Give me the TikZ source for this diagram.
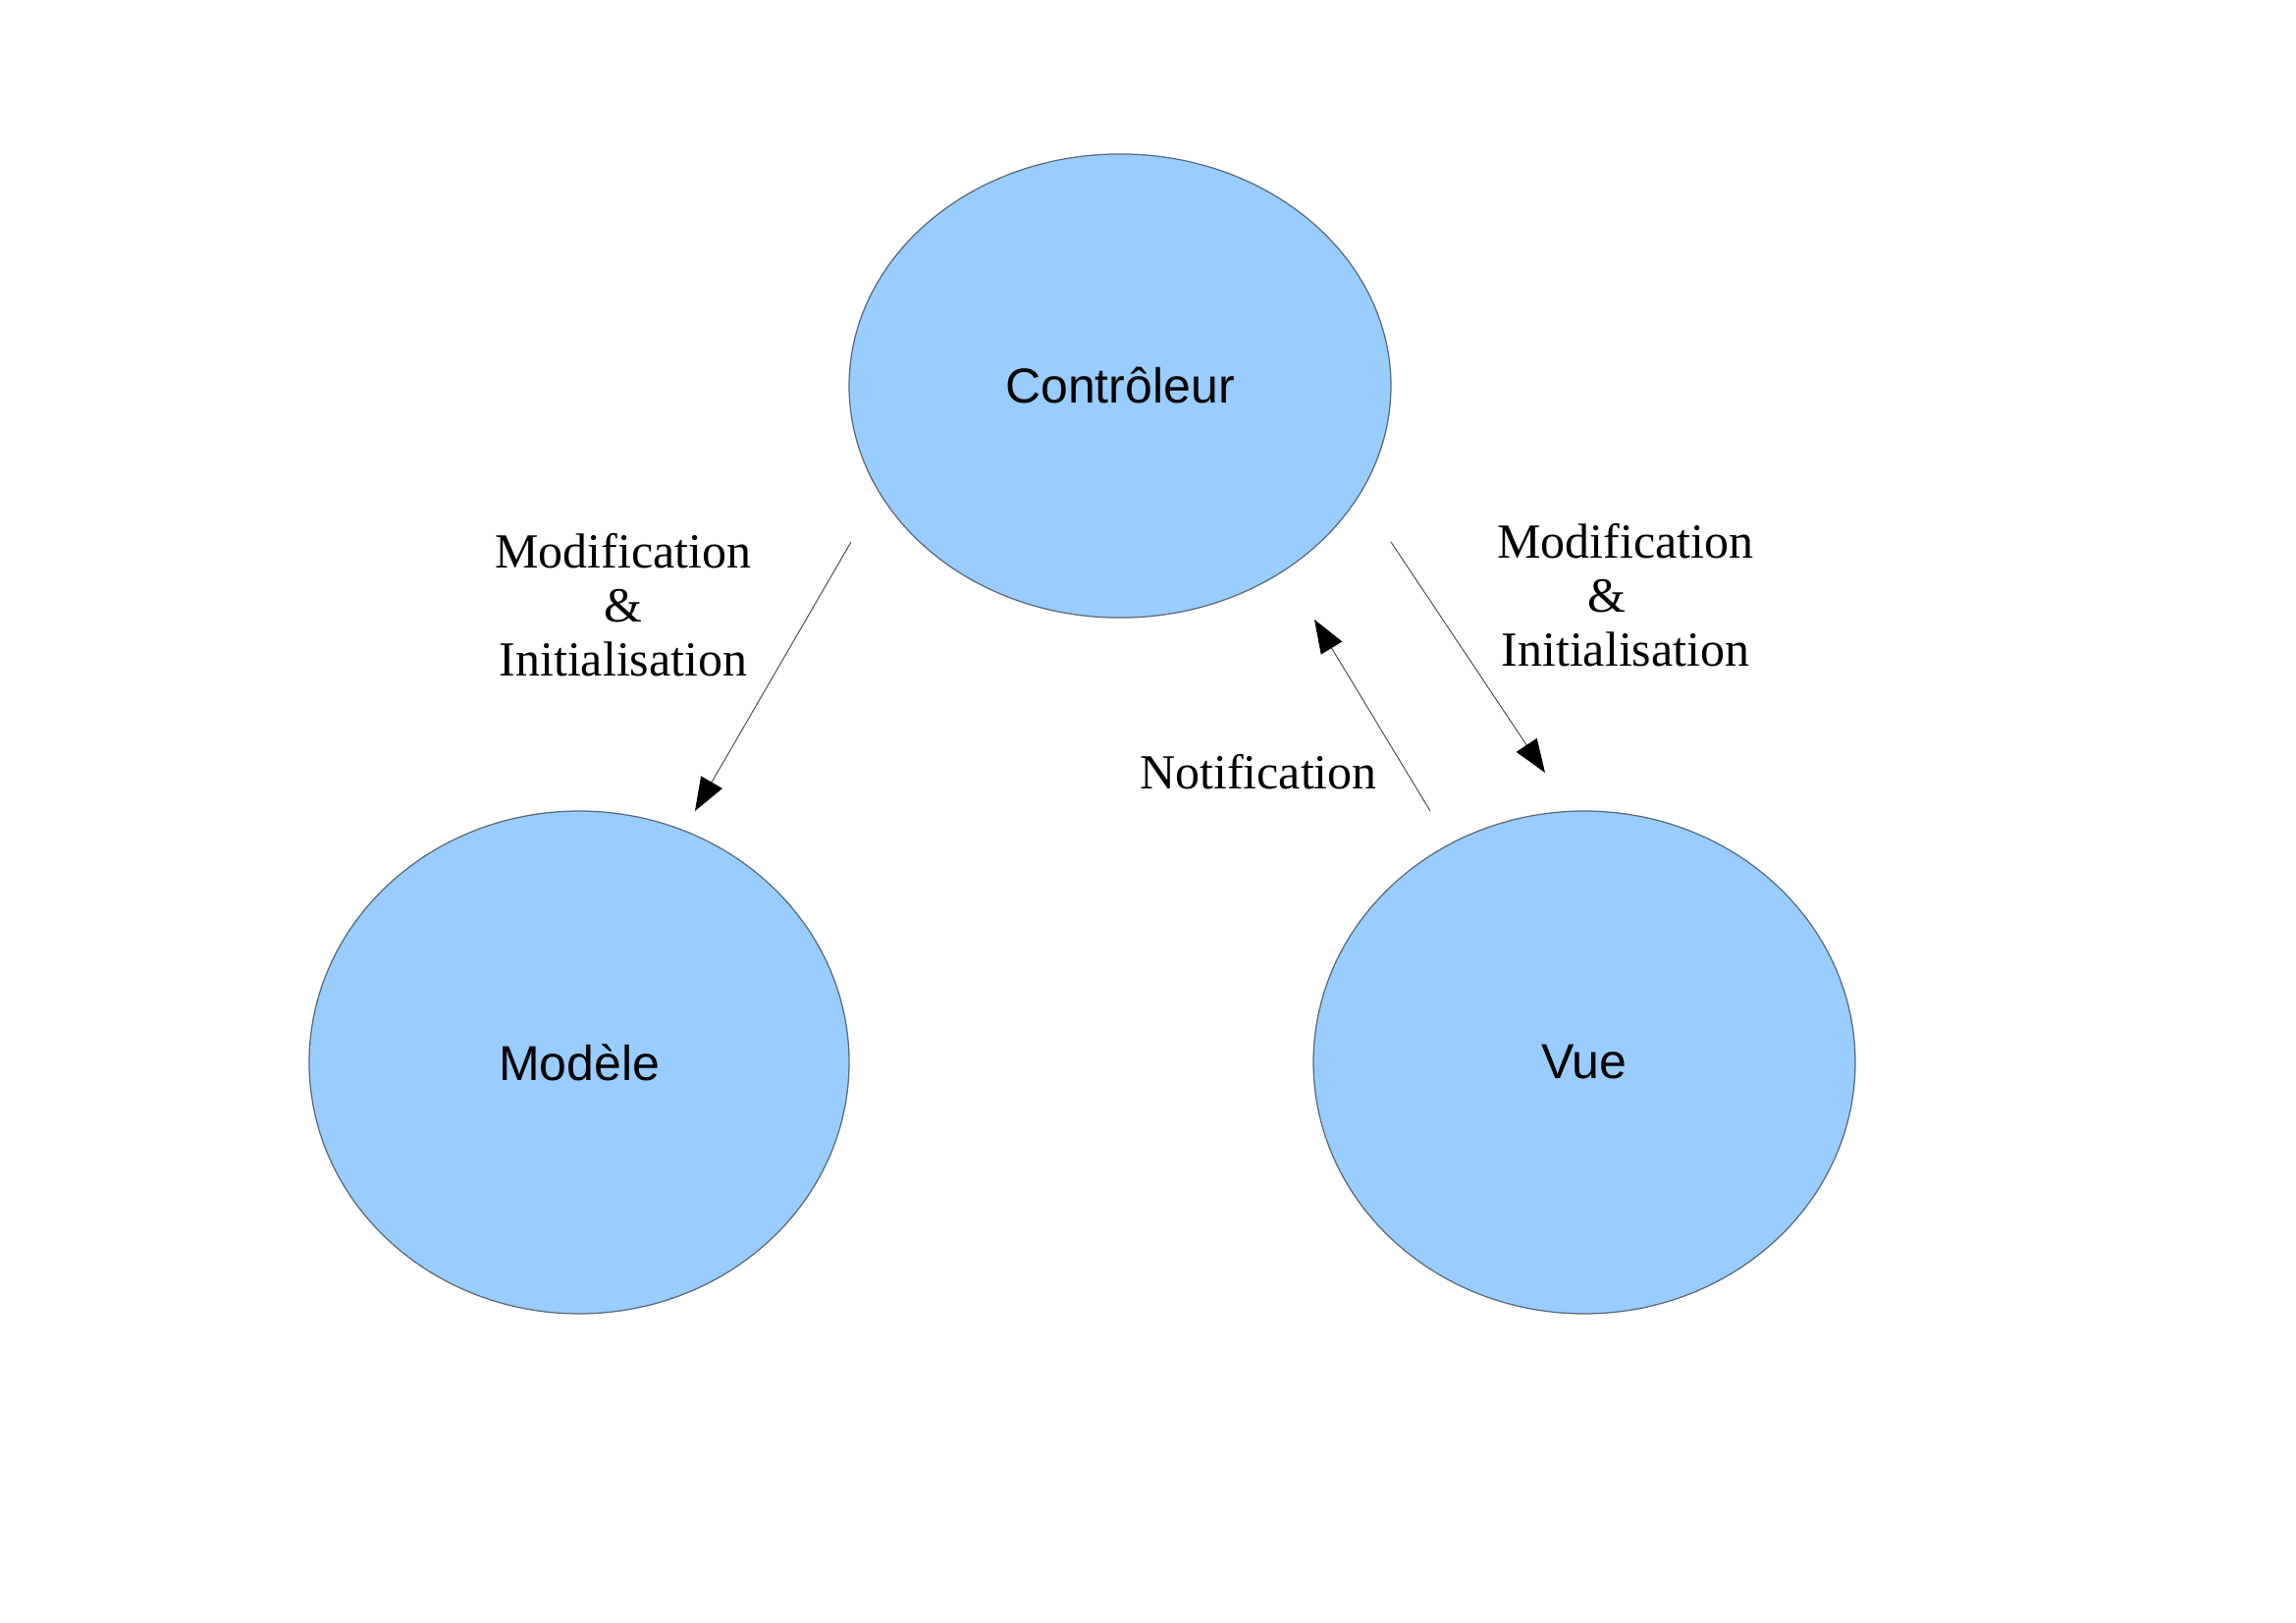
\documentclass[tikz,border=0pt]{standalone}
\usepackage{fontspec}
\setmainfont{Liberation Serif}
\newfontfamily\arialfont{Liberation Sans}
\usetikzlibrary{shapes.geometric,arrows.meta}
\definecolor{bubblefill}{HTML}{99CCFF}
\definecolor{bubbleline}{HTML}{5A6878}
\begin{document}
\begin{tikzpicture}[x=0.36pt,y=-0.36pt,
  bubble/.style={ellipse,fill=bubblefill,draw=bubbleline,line width=0.45pt,
    inner sep=0pt,font=\arialfont\fontsize{18}{21}\selectfont},
  lbl/.style={align=center,inner sep=0pt,font=\fontsize{18}{19.8}\selectfont},
  conn/.style={draw=black!70,line width=0.35pt,
    -{Triangle[length=12.2pt,width=9pt,fill=black,color=black]}}]
\useasboundingbox (0,0) rectangle (2339,1653);
\node[bubble,minimum width=198.7pt,minimum height=170pt] (ctrl) at (1141,393) {Contrôleur};
\node[bubble,minimum width=198pt,minimum height=184.3pt] (model) at (590,1082) {Modèle};
\node[bubble,minimum width=198.7pt,minimum height=184.3pt] (view) at (1614,1082) {Vue};
\coordinate (a1s) at (867,552);
\coordinate (a1e) at (708,826);
\coordinate (a2s) at (1417,552);
\coordinate (a2e) at (1574,787);
\coordinate (a3s) at (1457,826);
\coordinate (a3e) at (1339,631);
\draw[conn] (a1s) -- (a1e);
\draw[conn] (a2s) -- (a2e);
\draw[conn] (a3s) -- (a3e);
\node[lbl] (l1) at (635,616) {Modification\\\&\\Initialisation};
\node[lbl] (l2) at (1656,606) {Modification\\\makebox[0pt]{\hspace*{-13.7pt}\&}\\Initialisation};
\node[lbl,anchor=base] (l3) at (1282,803) {Notification};
\end{tikzpicture}
\end{document}
